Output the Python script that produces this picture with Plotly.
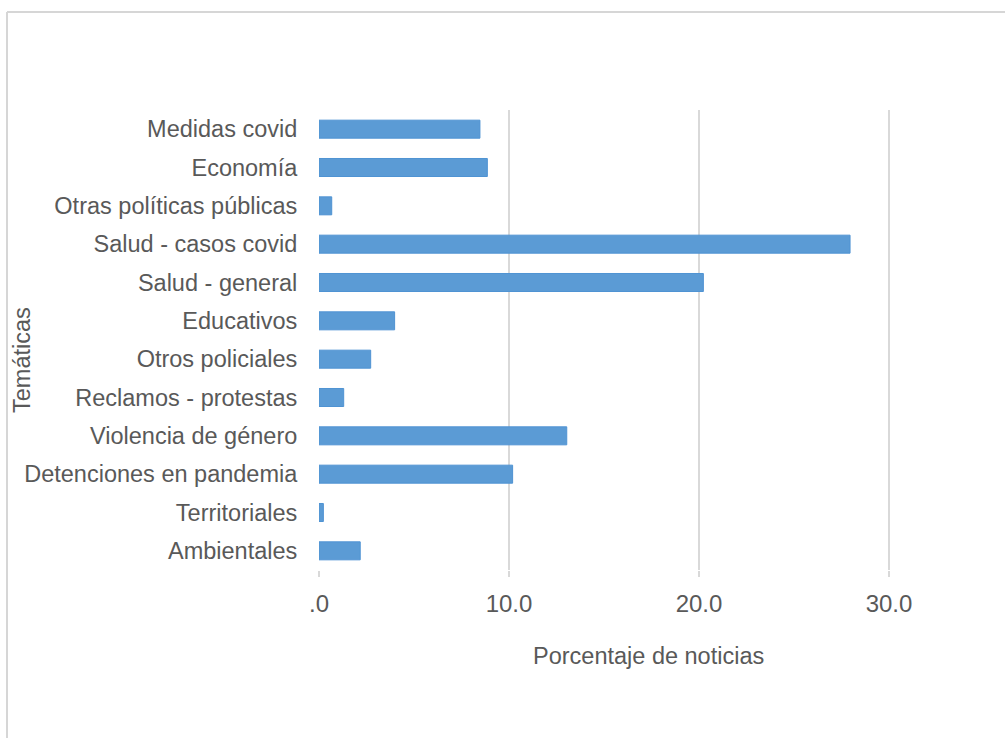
#!/usr/bin/env python3

import plotly.graph_objects as go

# data (top to bottom)
tematicas = [
    'Medidas covid',
    'Economía',
    'Otras políticas públicas',
    'Salud - casos covid',
    'Salud - general',
    'Educativos',
    'Otros policiales',
    'Reclamos - protestas',
    'Violencia de género',
    'Detenciones en pandemia',
    'Territoriales',
    'Ambientales',
]
porcentaje = [8.47, 8.86, 0.67, 27.95, 20.23, 3.98, 2.72, 1.30, 13.04, 10.19, 0.23, 2.17]
tick_vals = [0, 10, 20, 30]
tick_text = ['.0', '10.0', '20.0', '30.0']

W, H = 1005, 738
L, R, T, B = 319, 21, 110, 168
font = 'Arial, Liberation Sans, sans-serif'
grey_txt = '#595959'
grid = '#d9d9d9'
fsize = 23.5


def px_x(px):
    # pixel -> paper x
    return (px - L) / (W - L - R)


def px_y(py):
    # pixel -> paper y
    return (H - B - py) / (H - B - T)


trace = go.Bar(
    x=porcentaje,
    y=tematicas,
    orientation='h',
    marker=dict(color='#5b9bd5', line=dict(color='#4f93d3', width=1)),
)

layout = go.Layout(
    width=W,
    height=H,
    margin=dict(l=L, r=R, t=T, b=B),
    paper_bgcolor='white',
    plot_bgcolor='white',
    showlegend=False,
    bargap=0.53,
    font=dict(family=font, size=fsize, color=grey_txt),
    xaxis={
        'range': [0, 35],
        'tickvals': tick_vals,
        'ticktext': tick_text,
        'showgrid': True,
        'gridcolor': grid,
        'gridwidth': 1.5,
        'zeroline': False,
        'showline': False,
        'ticks': 'outside',
        'ticklen': 6,
        'tickcolor': grid,
        'tickwidth': 1.5,
        'ticklabelstandoff': 6,
        'tickfont': dict(size=24, color=grey_txt),
    },
    yaxis={
        'autorange': 'reversed',
        'showgrid': False,
        'zeroline': False,
        'showline': False,
        'ticks': 'outside',
        'ticklen': 16,
        'tickcolor': 'rgba(0,0,0,0)',
        'tickfont': dict(size=fsize, color=grey_txt),
    },
    annotations=[
        dict(text='Porcentaje de noticias', xref='paper', yref='paper',
             x=px_x(648), y=px_y(656), showarrow=False,
             xanchor='center', yanchor='middle',
             font=dict(size=fsize, color=grey_txt)),
        dict(text='Temáticas', xref='paper', yref='paper',
             x=px_x(22), y=px_y(360), showarrow=False, textangle=-90,
             xanchor='center', yanchor='middle',
             font=dict(size=fsize, color=grey_txt)),
    ],
    shapes=[
        # chart frame (only top and left edges show in the crop)
        dict(type='line', xref='paper', yref='paper',
             x0=px_x(7), y0=px_y(12), x1=px_x(W + 10), y1=px_y(12),
             line=dict(color='#d6d6d6', width=2)),
        dict(type='line', xref='paper', yref='paper',
             x0=px_x(7), y0=px_y(12), x1=px_x(7), y1=px_y(H + 10),
             line=dict(color='#d6d6d6', width=2)),
    ],
)

fig = go.Figure(data=[trace], layout=layout)
# drop the default page margin so the figure sits at the window corner
fig.write_html(
    'out.html',
    config={'displayModeBar': False},
    post_script="document.body.style.margin='0';",
)
